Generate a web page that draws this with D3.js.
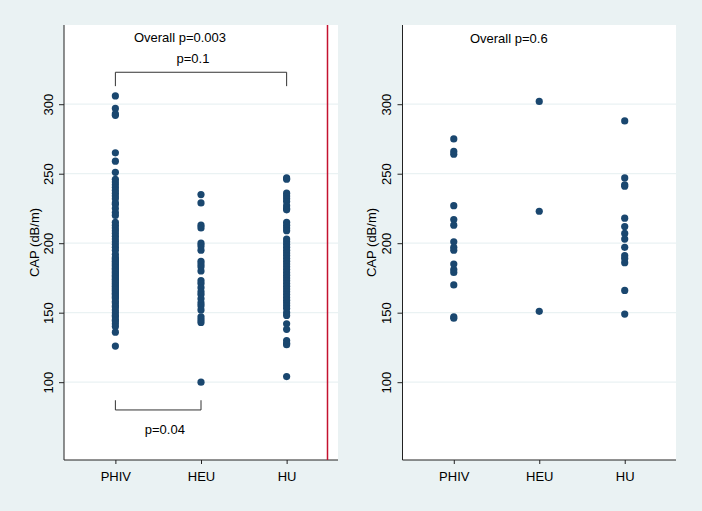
<!DOCTYPE html>
<html>
<head>
<meta charset="utf-8">
<script src="https://cdn.jsdelivr.net/npm/d3@7"></script>
<style>
  html, body { margin: 0; padding: 0; background: #eaf2f3; }
  svg { display: block; }
  text { font-family: "Liberation Sans", Arial, sans-serif; }
</style>
</head>
<body>
<svg id="chart" width="702" height="511"></svg>
<script>
// ---------- data ----------
const categories = ["PHIV", "HEU", "HU"];
const yTicks = [100, 150, 200, 250, 300];
const yLabel = "CAP (dB/m)";

// Left panel
const leftPHIV = [306, 297, 293, 292, 265, 259, 251, 246, 244, 242, 240, 238, 236, 234, 232, 229, 228, 225, 222, 220,
  215, 213, 211, 209, 207, 205, 203, 201, 199, 197, 195, 192, 190, 189, 188, 187, 186, 185, 184, 183, 182, 181, 180,
  179, 178, 177, 176, 175, 174, 173, 172, 171, 170, 169, 168, 167, 166, 165, 164, 163, 162, 161, 160, 158, 157, 155,
  154, 152, 150, 148, 147, 145, 144, 142, 140, 136, 126];
const leftHEU = [235, 229, 213, 211, 200, 198, 195, 187, 185, 183, 180, 173, 171, 168, 165, 163, 160, 157, 155, 152,
  147, 145, 143, 100];
const leftHU = [247, 246, 236, 234, 232, 230, 227, 225, 224, 215, 213, 211, 209, 203, 201, 199, 197, 195, 193, 191,
  189, 187, 185, 183, 181, 179, 177, 175, 173, 171, 169, 167, 165, 163, 161, 159, 157, 155, 153, 150, 148, 142, 138,
  130, 128, 127, 104];

// Right panel
const rightPHIV = [275, 266, 264, 227, 217, 213, 201, 197, 195, 185, 181, 179, 170, 147, 146];
const rightHEU = [302, 223, 151];
const rightHU = [288, 247, 242, 241, 218, 212, 207, 203, 197, 191, 189, 186, 166, 149];

const leftOverall = "Overall p=0.003";
const rightOverall = "Overall p=0.6";
const bracketTopLabel = "p=0.1";
const bracketBottomLabel = "p=0.04";

// ---------- drawing ----------
const svg = d3.select("#chart");
const plotTop = 25, plotBottom = 460;
const y = d3.scaleLinear().domain([44, 357]).range([plotBottom, plotTop]);
const dotColor = "#1a476f";
const fontSize = 13;

function drawPanel(x0, x1, series, yLabelX) {
  const g = svg.append("g");
  const x = d3.scalePoint().domain(categories).range([x0, x1]).padding(0.6);

  g.append("rect").attr("x", x0).attr("y", plotTop).attr("width", x1 - x0).attr("height", plotBottom - plotTop)
    .attr("fill", "#ffffff");

  // grid lines
  g.selectAll(".grid").data(yTicks).enter().append("line")
    .attr("x1", x0).attr("x2", x1)
    .attr("y1", d => y(d)).attr("y2", d => y(d))
    .attr("stroke", "#eaf2f3").attr("stroke-width", 1.2);

  // y axis
  const ya = g.append("g").attr("transform", `translate(${x0},0)`)
    .call(d3.axisLeft(y).tickValues(yTicks).tickSize(5).tickSizeOuter(0));
  ya.select(".domain").attr("d", `M0,${plotTop}V${plotBottom}`).attr("stroke", "#222");
  ya.selectAll(".tick line").attr("stroke", "#222");
  ya.selectAll(".tick text")
    .attr("x", 0).attr("y", 0).attr("dy", "0.35em")
    .attr("text-anchor", "middle")
    .attr("transform", "translate(-16,0) rotate(-90)")
    .attr("font-size", fontSize).attr("font-family", "Liberation Sans, Arial, sans-serif")
    .attr("fill", "#000");

  // x axis
  const xa = g.append("g").attr("transform", `translate(0,${plotBottom})`)
    .call(d3.axisBottom(x).tickSize(4).tickSizeOuter(0));
  xa.select(".domain").attr("d", `M${x0},0H${x1}`).attr("stroke", "#222");
  xa.selectAll(".tick line").attr("stroke", "#222");
  xa.selectAll(".tick text")
    .attr("y", 21).attr("dy", 0)
    .attr("font-size", fontSize).attr("font-family", "Liberation Sans, Arial, sans-serif")
    .attr("fill", "#000");

  // y label
  g.append("text")
    .attr("transform", `translate(${yLabelX},${(plotTop + plotBottom) / 2}) rotate(-90)`)
    .attr("dy", "0.35em").attr("text-anchor", "middle")
    .attr("font-size", fontSize).attr("fill", "#000")
    .text(yLabel);

  // points
  categories.forEach((c, i) => {
    g.selectAll(null).data(series[i]).enter().append("circle")
      .attr("cx", x(c)).attr("cy", d => y(d)).attr("r", 3.6)
      .attr("fill", dotColor);
  });

  return { g, x };
}

const L = drawPanel(64, 338, [leftPHIV, leftHEU, leftHU], 34.3);
const R = drawPanel(402.5, 676, [rightPHIV, rightHEU, rightHU], 371.5);

// red separator line (left panel)
L.g.append("line").attr("x1", 327.5).attr("x2", 327.5).attr("y1", plotTop).attr("y2", plotBottom)
  .attr("stroke", "#c4122f").attr("stroke-width", 1.5);

// annotations
function txt(g, xp, yp, s) {
  g.append("text").attr("x", xp).attr("y", yp).attr("text-anchor", "middle")
    .attr("font-size", fontSize).attr("fill", "#000").text(s);
}
const xl = L.x;
txt(L.g, 180, 42, leftOverall);
txt(L.g, 193, 63, bracketTopLabel);
txt(L.g, 164.8, 434, bracketBottomLabel);

const br = L.g.append("g").attr("stroke", "#333").attr("stroke-width", 1).attr("fill", "none");
br.append("path").attr("d",
  `M${xl("PHIV")},${y(313)}V${y(323)}H${xl("HU")}V${y(313)}`);
br.append("path").attr("d",
  `M${xl("PHIV")},${y(87)}V${y(80)}H${xl("HEU")}V${y(87)}`);

txt(R.g, 508.8, 43, rightOverall);
</script>
</body>
</html>
